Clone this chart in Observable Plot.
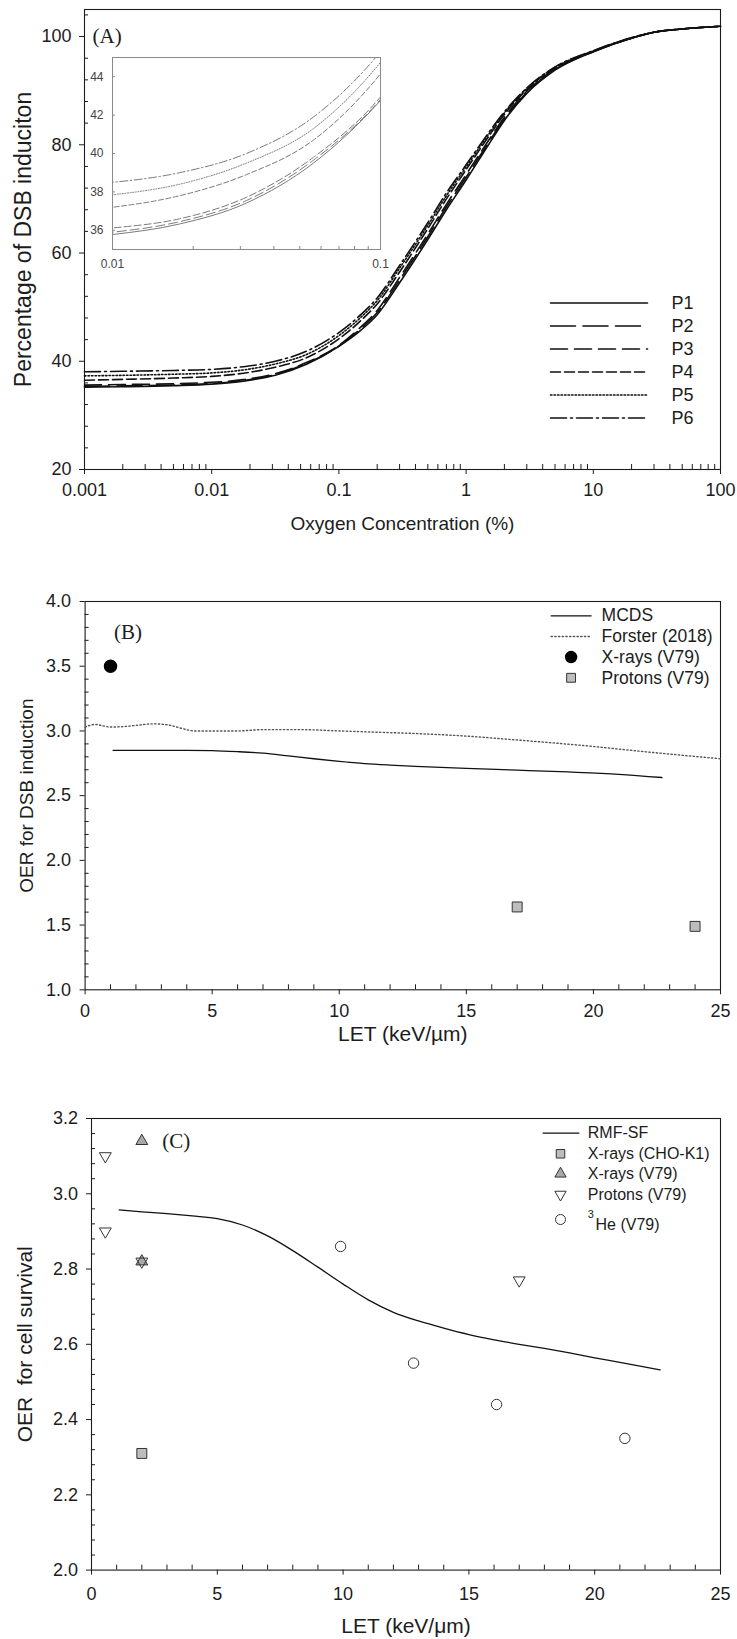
<!DOCTYPE html>
<html>
<head>
<meta charset="utf-8">
<script src="https://cdn.jsdelivr.net/npm/d3@7"></script>
<script src="https://cdn.jsdelivr.net/npm/@observablehq/plot@0.6"></script>
<style>
  html, body { margin: 0; padding: 0; background: #fff; }
  #fig { position: relative; width: 737px; height: 1639px; overflow: hidden; background: #fff; }
  #panelA { position: relative; }
  #inset { position: absolute; left: 84px; top: 46px; }
  svg { display: block; }
</style>
</head>
<body>
<div id="fig"><div id="panelA"><div id="inset"></div></div><div id="panelB"></div><div id="panelC"></div></div>
<script>
// ---------------- Panel A data ----------------
const o2Conc = [0.001, 0.002, 0.005, 0.01, 0.0178, 0.0316, 0.0562, 0.1, 0.15, 0.2, 0.3, 0.5, 0.7, 1, 1.5, 2, 3, 5, 10, 20, 30, 50, 100];
const dsbP1 = [35.2, 35.3, 35.5, 35.78, 36.33, 37.42, 39.5, 42.76, 45.8, 48.6, 54.5, 62.5, 68.0, 73.5, 80.0, 84.5, 89.5, 93.8, 97.2, 99.7, 100.8, 101.4, 101.9];
const dsbP2 = [35.35, 35.45, 35.62, 35.9, 36.45, 37.55, 39.65, 42.82, 46.1, 49.0, 55.0, 63.0, 68.5, 74.0, 80.4, 84.8, 89.7, 93.9, 97.2, 99.7, 100.8, 101.4, 101.9];
const dsbP3 = [35.6, 35.7, 35.85, 36.12, 36.6, 37.72, 39.8, 42.95, 46.4, 49.4, 55.5, 63.5, 69.0, 74.5, 80.8, 85.1, 89.9, 94.0, 97.25, 99.7, 100.8, 101.4, 101.9];
const dsbP4 = [36.5, 36.65, 36.9, 37.2, 37.8, 38.9, 40.7, 44.15, 47.6, 50.6, 56.5, 64.5, 70.0, 75.4, 81.5, 85.6, 90.2, 94.2, 97.3, 99.75, 100.8, 101.4, 101.9];
const dsbP5 = [37.3, 37.4, 37.6, 37.85, 38.4, 39.5, 41.3, 44.75, 48.2, 51.2, 57.2, 65.1, 70.6, 75.9, 81.9, 85.9, 90.4, 94.3, 97.35, 99.75, 100.8, 101.4, 101.9];
const dsbP6 = [38.05, 38.15, 38.3, 38.5, 39.0, 40.0, 41.9, 45.3, 48.7, 51.7, 57.7, 65.6, 71.1, 76.3, 82.2, 86.1, 90.5, 94.4, 97.4, 99.8, 100.8, 101.4, 101.9];
const seriesNamesA = ["P1", "P2", "P3", "P4", "P5", "P6"];
const xTicksA = [0.001, 0.01, 0.1, 1, 10, 100];
const yTicksA = [20, 40, 60, 80, 100];
const insetXTicks = [0.01, 0.1];
const insetYTicks = [36, 38, 40, 42, 44];

// ---------------- Panel B data ----------------
const mcdsLET = [1.1, 2, 3, 4, 5, 6, 7, 8, 9, 10, 11, 12, 13, 15, 17, 19, 21, 22.7];
const mcdsOER = [2.85, 2.85, 2.85, 2.85, 2.848, 2.84, 2.828, 2.807, 2.785, 2.765, 2.748, 2.736, 2.726, 2.71, 2.697, 2.683, 2.665, 2.64];
const forsterLET = [0, 0.4, 1, 1.6, 2.1, 2.7, 3.3, 3.8, 4.3, 5, 6, 7, 8.5, 10, 11.5, 13, 15, 17, 20, 22, 25];
const forsterOER = [3.03, 3.05, 3.03, 3.035, 3.045, 3.055, 3.045, 3.02, 3.0, 3.0, 3.0, 3.01, 3.01, 3.0, 2.99, 2.98, 2.96, 2.93, 2.88, 2.84, 2.785];
const xrayB_LET = [1.0];
const xrayB_OER = [3.5];
const protonB_LET = [17, 24];
const protonB_OER = [1.64, 1.49];
const legendB = ["MCDS", "Forster (2018)", "X-rays (V79)", "Protons (V79)"];
const yTicksB = [1.0, 1.5, 2.0, 2.5, 3.0, 3.5, 4.0];
const xTicksLET = [0, 5, 10, 15, 20, 25];

// ---------------- Panel C data ----------------
const rmfLET = [1.1, 2, 3, 4, 5, 6, 7, 8, 9, 10, 11, 12, 13, 14, 15, 16, 17, 18, 19, 20, 21, 22.6];
const rmfOER = [2.957, 2.952, 2.947, 2.941, 2.934, 2.917, 2.888, 2.849, 2.805, 2.760, 2.718, 2.685, 2.662, 2.643, 2.626, 2.612, 2.600, 2.589, 2.577, 2.564, 2.552, 2.532];
const xrayCHO_LET = [2];
const xrayCHO_OER = [2.31];
const xrayV79_LET = [2, 2];
const xrayV79_OER = [3.14, 2.82];
const protonV79_LET = [0.55, 0.55, 2, 17];
const protonV79_OER = [3.10, 2.90, 2.82, 2.77];
const he3_LET = [9.9, 12.8, 16.1, 21.2];
const he3_OER = [2.86, 2.55, 2.44, 2.35];
const legendC = ["RMF-SF", "X-rays (CHO-K1)", "X-rays (V79)", "Protons (V79)", "He (V79)"];
const yTicksC = [2.0, 2.2, 2.4, 2.6, 2.8, 3.0, 3.2];

// ---------------- helpers & styles ----------------
const FONT = "'Liberation Sans', Arial, Helvetica, sans-serif";
const SERIF = "'Liberation Serif', 'Times New Roman', serif";
const INK = "#1c1c1c";
const zip = (xs, ys) => xs.map((x, i) => ({x, y: ys[i]}));
const hline = {draw(ctx, l) { ctx.moveTo(0, 0); ctx.lineTo(0, -l); }};
const triDown = {draw(ctx, size) {
  const y = -Math.sqrt(size / (Math.sqrt(3) * 3));
  ctx.moveTo(0, -y * 2); ctx.lineTo(-Math.sqrt(3) * y, y); ctx.lineTo(Math.sqrt(3) * y, y); ctx.closePath();
}};
const legendLine = (dx, dy, len, o) => Plot.vector([0], {frameAnchor: "top-left", dx, dy, length: len, rotate: 90, anchor: "start", shape: hline, ...o});
const legendText = (label, dx, dy, size, o = {}) => Plot.text([label], {text: d => d, frameAnchor: "top-left", dx, dy, textAnchor: "start", lineAnchor: "middle", fontSize: size, fill: INK, ...o});
const legendDot = (dx, dy, o) => Plot.dot([0], {frameAnchor: "top-left", dx, dy, ...o});
const xTitle = (label, dy, size) => Plot.text([label], {text: d => d, frameAnchor: "bottom", dy, textAnchor: "middle", lineAnchor: "middle", fontSize: size, fill: INK});
const yTitle = (label, dx, size) => Plot.text([label], {text: d => d, frameAnchor: "left", dx, rotate: -90, textAnchor: "middle", lineAnchor: "middle", fontSize: size, fill: INK});
const minorTicksX = (ticks, size) => Plot.axisX({ticks, anchor: "bottom", tickSize: size, dy: -size, fill: "none", stroke: INK, label: null});
const minorTicksY = (ticks, size) => Plot.axisY({ticks, anchor: "left", tickSize: size, dx: size, fill: "none", stroke: INK, label: null});

// ---------------- Panel A ----------------
const dashA = [null, "25,7.5", "17,7", "10,4", "1.5,2", "16,4,2,4"];
const dashInset = [null, "9,4", "7,3", "5,2.5", "1,1.6", "8,2.5,1.5,2.5"];
const seriesA = [dsbP1, dsbP2, dsbP3, dsbP4, dsbP5, dsbP6];
const minorLogA = [];
for (const d of [0.001, 0.01, 0.1, 1, 10]) for (let m = 2; m <= 9; m++) minorLogA.push(+(d * m).toPrecision(3));
const minorYA = d3.range(24, 105, 4).filter(v => v % 20 !== 0);

const plotA = Plot.plot({
  width: 737, height: 545,
  marginTop: 9, marginBottom: 76, marginLeft: 84, marginRight: 17,
  style: {fontFamily: FONT, color: INK, background: "white", overflow: "visible"},
  x: {type: "log", domain: [0.001, 100]},
  y: {domain: [20, 105]},
  marks: [
    Plot.frame({stroke: INK, strokeWidth: 1.1}),
    ...seriesA.map((vals, k) => Plot.line(zip(o2Conc, vals), {x: "x", y: "y", stroke: "#111", strokeWidth: 1.6, strokeDasharray: dashA[k], curve: "monotone-x"})),
    Plot.axisX({ticks: xTicksA, anchor: "bottom", tickSize: 5, tickPadding: 9, tickFormat: d => String(d), fontSize: 18, stroke: INK, label: null}),
    minorTicksX(minorLogA, 5),
    Plot.axisY({ticks: yTicksA, anchor: "left", tickSize: 5, tickPadding: 8, fontSize: 18, stroke: INK, label: null}),
    minorTicksY(minorYA, 4),
    xTitle("Oxygen Concentration (%)", 54, 19),
    yTitle("Percentage of DSB induciton", -61, 23),
    legendText("(A)", 8, 27, 21, {fontFamily: SERIF}),
    ...seriesNamesA.flatMap((name, k) => [
      legendLine(466, 293.5 + k * 23, 97, {stroke: "#111", strokeWidth: 1.6, strokeDasharray: dashA[k]}),
      legendText(name, 587, 293.5 + k * 23, 18)
    ])
  ]
});
document.getElementById("panelA").prepend(plotA);

const plotInset = Plot.plot({
  width: 310, height: 227,
  marginTop: 11, marginBottom: 24, marginLeft: 28, marginRight: 14,
  style: {fontFamily: FONT, color: "#444", background: "none", overflow: "visible"},
  x: {type: "log", domain: [0.01, 0.1]},
  y: {domain: [35, 45]},
  marks: [
    ...seriesA.map((vals, k) => Plot.line(zip(o2Conc, vals), {x: "x", y: "y", stroke: "#7a7a7a", strokeWidth: 1, strokeDasharray: dashInset[k], curve: "monotone-x", clip: true})),
    Plot.frame({stroke: "#8a8a8a", strokeWidth: 1}),
    Plot.axisX({ticks: insetXTicks, anchor: "bottom", tickSize: 0, tickPadding: 10, tickFormat: d => String(d), fontSize: 12, fill: "#444", label: null}),
    Plot.axisX({ticks: d3.range(2, 10).map(m => m / 100), anchor: "bottom", tickSize: 3, dy: -3, fill: "none", stroke: "#8a8a8a", label: null}),
    Plot.axisY({ticks: insetYTicks, anchor: "left", tickSize: 0, tickPadding: 9, fontSize: 12, fill: "#444", label: null}),
    Plot.axisY({ticks: insetYTicks, anchor: "left", tickSize: 3, dx: 3, fill: "none", stroke: "#8a8a8a", label: null})
  ]
});
document.getElementById("inset").append(plotInset);

// ---------------- Panel B ----------------
const plotB = Plot.plot({
  width: 737, height: 540,
  marginTop: 56, marginBottom: 95.7, marginLeft: 84.6, marginRight: 17,
  style: {fontFamily: FONT, color: INK, background: "white", overflow: "visible"},
  x: {domain: [0, 25]},
  y: {domain: [1, 4]},
  marks: [
    Plot.frame({stroke: INK, strokeWidth: 1.1}),
    Plot.line(zip(forsterLET, forsterOER), {x: "x", y: "y", stroke: "#555", strokeWidth: 1.4, strokeDasharray: "1.3,2.4", curve: "monotone-x"}),
    Plot.line(zip(mcdsLET, mcdsOER), {x: "x", y: "y", stroke: "#111", strokeWidth: 1.3, curve: "monotone-x"}),
    Plot.dot(zip(xrayB_LET, xrayB_OER), {x: "x", y: "y", r: 6, fill: "#000", stroke: "#000"}),
    Plot.dot(zip(protonB_LET, protonB_OER), {x: "x", y: "y", symbol: "square", r: 5.6, fill: "#bdbdbd", stroke: "#333", strokeWidth: 1}),
    Plot.axisX({ticks: xTicksLET, anchor: "bottom", tickSize: 5, tickPadding: 9, fontSize: 18, stroke: INK, label: null}),
    minorTicksX(d3.range(1, 25).filter(v => v % 5 !== 0), 5),
    Plot.axisY({ticks: yTicksB, anchor: "left", tickSize: 5, tickPadding: 9, tickFormat: d3.format(".1f"), fontSize: 18, stroke: INK, label: null}),
    minorTicksY(d3.range(11, 40).filter(v => v % 5 !== 0).map(v => v / 10), 4),
    xTitle("LET (keV/\u00b5m)", 44, 21),
    yTitle("OER for DSB induction", -58.6, 19),
    legendText("(B)", 29, 31, 21, {fontFamily: SERIF}),
    legendLine(466, 14.3, 40, {stroke: "#111", strokeWidth: 1.3}),
    legendLine(466, 35, 40, {stroke: "#555", strokeWidth: 1.4, strokeDasharray: "1.3,2.4"}),
    legendDot(486, 55.6, {r: 5.5, fill: "#000", stroke: "#000"}),
    legendDot(486, 76.3, {symbol: "square", r: 5, fill: "#bdbdbd", stroke: "#333", strokeWidth: 1}),
    ...legendB.map((name, k) => legendText(name, 516.5, 14.3 + k * 20.7, 17.5))
  ]
});
document.getElementById("panelB").append(plotB);

// ---------------- Panel C ----------------
const plotC = Plot.plot({
  width: 737, height: 554,
  marginTop: 33, marginBottom: 69.4, marginLeft: 91, marginRight: 17,
  style: {fontFamily: FONT, color: INK, background: "white", overflow: "visible"},
  x: {domain: [0, 25]},
  y: {domain: [2, 3.2]},
  marks: [
    Plot.frame({stroke: INK, strokeWidth: 1.1}),
    Plot.line(zip(rmfLET, rmfOER), {x: "x", y: "y", stroke: "#111", strokeWidth: 1.3, curve: "monotone-x"}),
    Plot.dot(zip(xrayCHO_LET, xrayCHO_OER), {x: "x", y: "y", symbol: "square", r: 5.6, fill: "#bdbdbd", stroke: "#333", strokeWidth: 1}),
    Plot.dot(zip(xrayV79_LET, xrayV79_OER), {x: "x", y: "y", symbol: "triangle", r: 4.4, fill: "#a8a8a8", stroke: "#333", strokeWidth: 1}),
    Plot.dot(zip(protonV79_LET, protonV79_OER), {x: "x", y: "y", symbol: triDown, r: 4.4, fill: "none", stroke: "#333", strokeWidth: 1}),
    Plot.dot(zip(he3_LET, he3_OER), {x: "x", y: "y", r: 5.2, fill: "none", stroke: "#333", strokeWidth: 1}),
    Plot.axisX({ticks: xTicksLET, anchor: "bottom", tickSize: 5, tickPadding: 12, fontSize: 18, stroke: INK, label: null}),
    minorTicksX(d3.range(1, 25).filter(v => v % 5 !== 0), 5),
    Plot.axisY({ticks: yTicksC, anchor: "left", tickSize: 5, tickPadding: 8.5, tickFormat: d3.format(".1f"), fontSize: 18, stroke: INK, label: null}),
    minorTicksY(d3.range(51, 80).filter(v => v % 5 !== 0).map(v => v / 25), 4),
    xTitle("LET (keV/\u03bcm)", 56, 21),
    yTitle("OER  for cell survival", -66.6, 21),
    legendText("(C)", 70.7, 22.7, 21, {fontFamily: SERIF}),
    legendLine(451.7, 14.7, 35.6, {stroke: "#111", strokeWidth: 1.3}),
    legendDot(469, 35.3, {symbol: "square", r: 4.8, fill: "#bdbdbd", stroke: "#333", strokeWidth: 1}),
    legendDot(469, 55.3, {symbol: "triangle", r: 4.2, fill: "#a8a8a8", stroke: "#333", strokeWidth: 1}),
    legendDot(469, 76, {symbol: triDown, r: 4.2, fill: "none", stroke: "#333", strokeWidth: 1}),
    legendDot(469, 101, {r: 5, fill: "none", stroke: "#333", strokeWidth: 1}),
    ...legendC.slice(0, 4).map((name, k) => legendText(name, 496.3, 14.7 + k * 20.4, 16)),
    legendText("3", 496.3, 96, 11),
    legendText(legendC[4], 504, 106, 16)
  ]
});
document.getElementById("panelC").append(plotC);
</script>
</body>
</html>
